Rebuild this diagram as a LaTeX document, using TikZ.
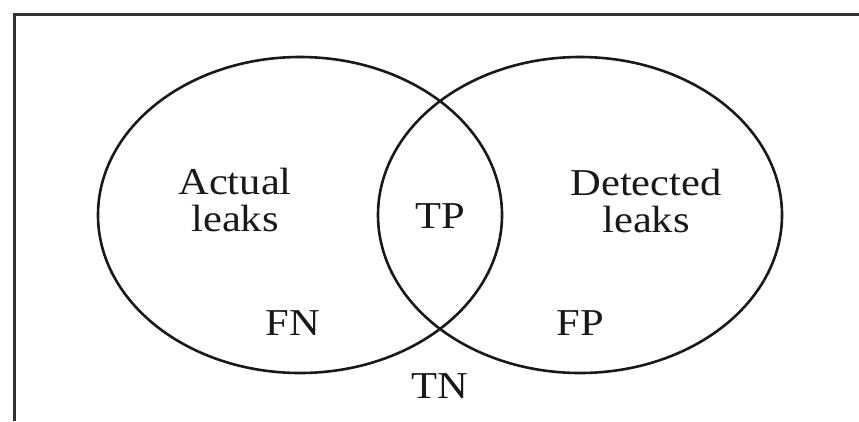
\documentclass[tikz,border=0pt]{standalone}
\usepackage{fontspec}
\usetikzlibrary{shapes.geometric}
\setmainfont{Liberation Serif}
\newfontfamily\lblfont[FakeStretch=1.12]{Liberation Serif}
\begin{document}
\begin{tikzpicture}[x=1pt,y=-1pt,
  frame/.style={line width=3.5pt,draw=black!80},
  setshape/.style={ellipse,draw=black!90,line width=2.6pt,minimum width=404pt,minimum height=316pt,inner sep=0pt},
  lbl/.style={font=\lblfont\fontsize{38}{37}\selectfont,align=center,inner sep=0pt,text=black!90}]
\useasboundingbox (0,0) rectangle (859,421);
\draw[frame] (14.5,421) -- (14.5,14.5) -- (859,14.5);
\node[setshape] (left) at (300,215) {};
\node[setshape] (right) at (580,215) {};
\node[lbl] (act) at (235,200) {Actual\\leaks};
\node[lbl] (det) at (646,201) {Detected\\leaks};
\node[lbl] (tp) at (440,216) {TP};
\node[lbl] (fn) at (293,323) {FN};
\node[lbl] (fp) at (580,323) {FP};
\node[lbl] (tn) at (440,386) {TN};
\end{tikzpicture}
\end{document}
